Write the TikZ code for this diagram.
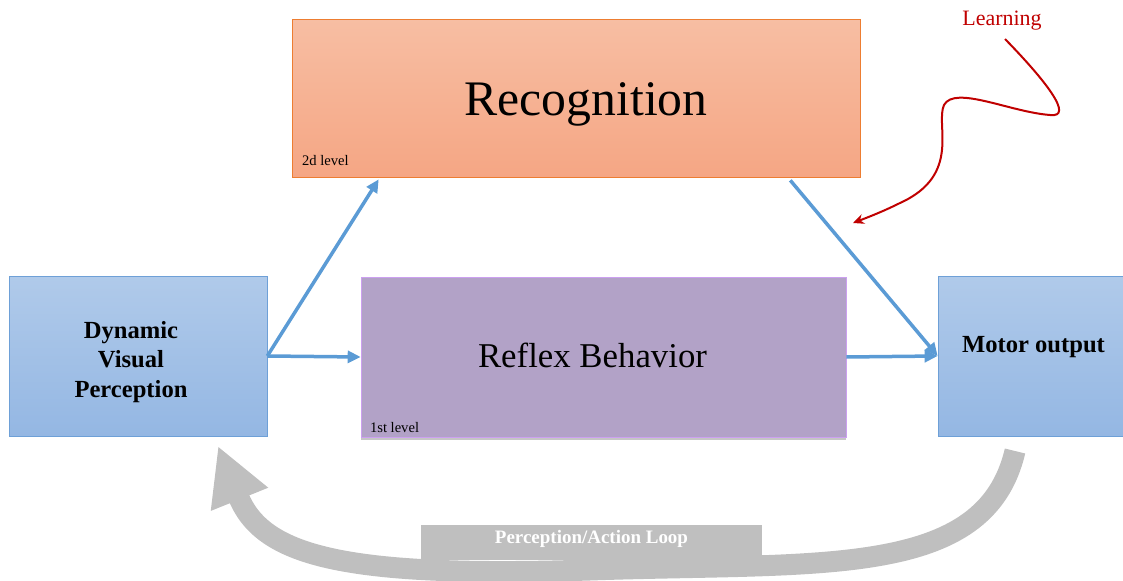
\documentclass[tikz,border=0pt]{standalone}
\usepackage{fontspec}
\setmainfont{Liberation Serif}
\usetikzlibrary{calc,arrows.meta,shadows}

\definecolor{rectop}{RGB}{247,190,163}
\definecolor{recbot}{RGB}{245,166,132}
\definecolor{recedge}{RGB}{237,125,49}
\definecolor{reflexfill}{RGB}{178,162,199}
\definecolor{reflexedge}{RGB}{204,160,240}
\definecolor{bluetop}{RGB}{176,202,234}
\definecolor{bluebot}{RGB}{148,183,227}
\definecolor{blueedge}{RGB}{110,160,215}
\definecolor{flowblue}{RGB}{91,155,213}
\definecolor{learnred}{RGB}{192,0,0}
\definecolor{loopgray}{RGB}{191,191,191}

\begin{document}
\begin{tikzpicture}[x=0.02cm,y=-0.02cm,
	bluebox/.style={draw=blueedge, top color=bluetop, bottom color=bluebot, minimum height=3.2cm},
	boldtxt/.style={align=center, font=\fontsize{14}{17}\selectfont\bfseries},
	flow/.style={draw=flowblue, line width=0.07cm, -{Triangle[length=0.26cm, width=0.24cm]}},
	lvl/.style={anchor=base west, inner sep=0pt, font=\fontsize{8.3}{10}\selectfont}]
		\useasboundingbox (0,0) rectangle (1123,581);
		% the two levels
		\node[draw=recedge, top color=rectop, bottom color=recbot, minimum width=11.36cm, minimum height=3.16cm] (rec) at (576,98) {};
		\node[font=\fontsize{28.3}{34}\selectfont] (rectxt) at ($(rec)+(10,6)$) {Recognition};
		\node[draw=reflexedge, fill=reflexfill, minimum width=9.7cm, minimum height=3.2cm, drop shadow={shadow xshift=0pt, shadow yshift=-1.5pt, opacity=0.45}] (reflex) at (603.5,357) {};
		\node[font=\fontsize{19.8}{24}\selectfont] (reflextxt) at ($(reflex)+(-11,-2)$) {Reflex Behavior};
		\node[lvl] at ($(rec.south west)+(10,-12)$) {2d level};
		\node[lvl] at ($(reflex.south west)+(9,-5)$) {1st level};
		% input and output
		\node[bluebox, minimum width=5.16cm] (dvp) at (138,356) {};
		\node[boldtxt] (dvptxt) at ($(dvp)+(-7,6)$) {Dynamic\\Visual\\Perception};
		\node[bluebox, minimum width=3.7cm] (motor) at (1030.5,356) {};
		\node[boldtxt] (motortxt) at ($(motor)+(3,-9)$) {Motor output};
		% flows
		\draw[flow] (dvp.east) -- ($(rec.south west)+(87,2)$);
		\draw[flow] (dvp.east) -- (reflex.west);
		\draw[flow] ($(rec.south east)+(-70,3)$) -- (motor.west);
		\draw[flow] (reflex.east) -- (motor.west);
		% learning
		\node[text=learnred, font=\fontsize{12.5}{15}\selectfont] (learn) at (1002,21) {Learning};
		\coordinate (lstart) at (1005,39);
		\coordinate (lend) at (853,223);
		\draw[learnred, line width=0.04cm, -{Stealth[length=0.22cm, width=0.2cm]}] (lstart) .. controls (1045,80) and (1075,118) .. (1050,115) .. controls (1010,112) and (955,85) .. (944,105) .. controls (935,125) and (962,175) .. (900,203) .. controls (882,212) and (866,218) .. (lend);
		% perception/action loop
		\coordinate (lpa) at (1015,451);
		\coordinate (lpb) at (590,570);
		\coordinate (lpc) at (218,446);
		\draw[loopgray, line width=0.42cm, -{Triangle[length=1.15cm, width=1.15cm]}] (lpa) .. controls (985,580) and (820,562) .. (lpb) .. controls (340,578) and (262,555) .. (lpc);
		\node[fill=loopgray, minimum width=6.82cm, minimum height=0.7cm] (loop) at (591.5,542.5) {};
		\node[text=white, font=\fontsize{10.8}{13}\selectfont\bfseries] (looptxt) at ($(loop)+(0,-4)$) {Perception/Action Loop};
		\end{tikzpicture}
\end{document}
